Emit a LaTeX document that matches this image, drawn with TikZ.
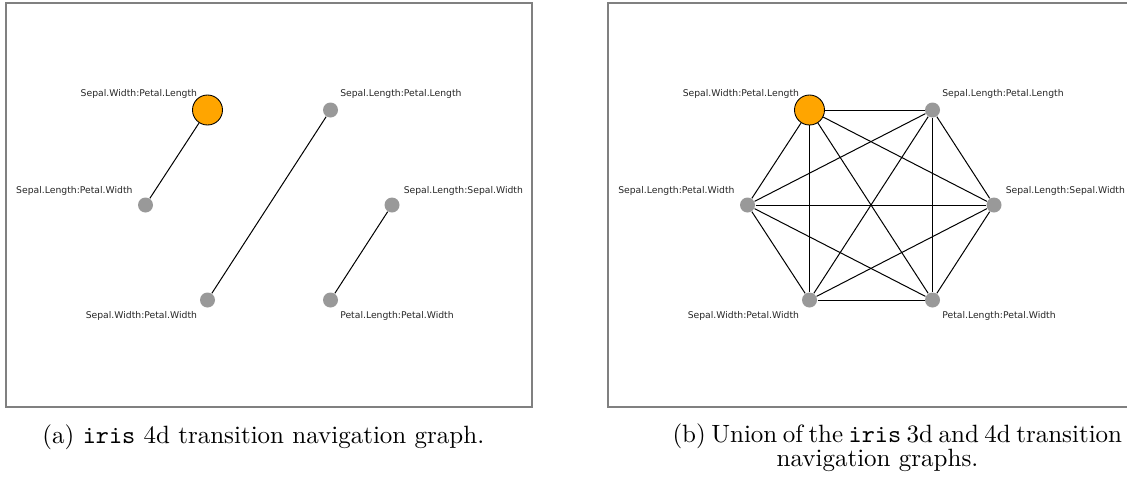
\documentclass[tikz,border=0pt]{standalone}
\usepackage{fontspec}
\newfontfamily\graphlabelfont{DejaVu Sans}
\definecolor{nodeorange}{HTML}{FFA500}
\definecolor{nodegray}{HTML}{999999}
\definecolor{framegray}{HTML}{808080}
\definecolor{labelgray}{HTML}{262626}

% One navigation-graph panel: #1 = name prefix, #2 = horizontal offset
\newcommand\graphpanel[2]{%
  \begin{scope}[shift={(#2,0)}]
    \draw[panelframe] (6,3) rectangle (532,407);
    \node[current] (#1swpl) at (207.5,110) {};
    \node[vertex]  (#1slpl) at (330.5,110) {};
    \node[vertex]  (#1slpw) at (145.5,205) {};
    \node[vertex]  (#1slsw) at (392,205) {};
    \node[vertex]  (#1swpw) at (207.5,300) {};
    \node[vertex]  (#1plpw) at (330.5,300) {};
    \node[vlabel,anchor=east] (#1lswpl) at (197.5,93.5)  {Sepal.Width:Petal.Length};
    \node[vlabel,anchor=west] (#1lslpl) at (339.8,93.5)  {Sepal.Length:Petal.Length};
    \node[vlabel,anchor=east] (#1lslpw) at (133,190.8)   {Sepal.Length:Petal.Width};
    \node[vlabel,anchor=west] (#1lslsw) at (403.3,190.8) {Sepal.Length:Sepal.Width};
    \node[vlabel,anchor=east] (#1lswpw) at (197.5,315.7) {Sepal.Width:Petal.Width};
    \node[vlabel,anchor=west] (#1lplpw) at (339.8,315.7) {Petal.Length:Petal.Width};
  \end{scope}}

\begin{document}
\begin{tikzpicture}[x=0.4pt,y=-0.4pt,
  panelframe/.style={draw=framegray,line width=0.5pt},
  vertex/.style={circle,fill=nodegray,inner sep=0pt,minimum size=6pt},
  current/.style={circle,draw=black,line width=0.35pt,fill=nodeorange,inner sep=0pt,minimum size=12pt},
  vlabel/.style={font=\graphlabelfont\fontsize{3.7}{4.4}\selectfont,text=labelgray,inner sep=0pt},
  edge/.style={line width=0.4pt,draw=black},
  capt/.style={font=\fontsize{10}{12}\selectfont,inner sep=0pt}]
\useasboundingbox (0,0) rectangle (1127,482);
\clip (0,0) rectangle (1127,482);

% (a) 4d transition graph
\graphpanel{a-}{0}
\draw[edge] (a-swpl) -- (a-slpw);
\draw[edge] (a-slpl) -- (a-swpw);
\draw[edge] (a-slsw) -- (a-plpw);

% (b) union of 3d and 4d graphs: every pair is connected
\graphpanel{b-}{602}
\foreach \u/\v in {swpl/slpl,swpl/slpw,swpl/slsw,swpl/swpw,swpl/plpw,
                   slpl/slpw,slpl/slsw,slpl/swpw,slpl/plpw,
                   slpw/slsw,slpw/swpw,slpw/plpw,
                   slsw/swpw,slsw/plpw,
                   swpw/plpw}
  \draw[edge] (b-\u) -- (b-\v);

% captions
\node[capt,anchor=base west] (capa) at (42,443.5)
  {(a) \texttt{iris} 4d transition navigation graph.};
\node[capt,anchor=base west] (capb1) at (672,442)
  {\spaceskip=2.2pt (b) Union of the \texttt{iris} 3d and 4d transition};
\node[capt,anchor=base] (capb2) at (877.5,466)
  {navigation graphs.};
\end{tikzpicture}
\end{document}
